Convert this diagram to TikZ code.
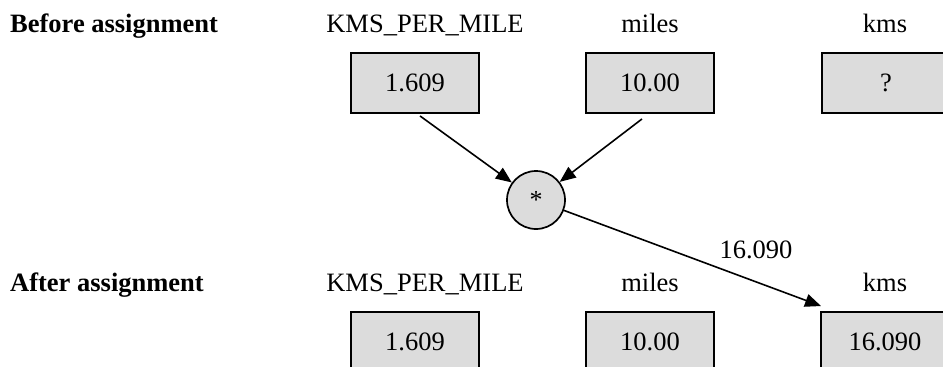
\documentclass[tikz,border=0pt]{standalone}
\usepackage{fontspec}
\setmainfont{Liberation Serif}
\usetikzlibrary{arrows.meta}
\definecolor{boxgray}{HTML}{DCDCDC}
\begin{document}
\begin{tikzpicture}[x=1pt,y=-1pt,
  bigfont/.style={font=\fontsize{26.5}{30}\selectfont},
  valbox/.style={bigfont, draw=black, line width=1.9pt, fill=boxgray,
    minimum width=128pt, minimum height=60pt, inner sep=0pt},
  lbl/.style={bigfont, anchor=base, inner sep=0pt},
  head/.style={font=\fontsize{26.5}{30}\selectfont\bfseries, anchor=base west, inner sep=0pt},
  opnode/.style={circle, draw=black, line width=1.7pt, fill=boxgray,
    minimum size=58pt, inner sep=0pt, font=\fontsize{26}{30}\selectfont},
  arr/.style={line width=1.6pt, -{Triangle[length=16pt,width=13pt]}}
]
\useasboundingbox (0,0) rectangle (943,367);
\clip (0,0) rectangle (943,367);

% headings
\node[head] (hbefore) at (10,32) {Before assignment};
\node[head] (hafter)  at (10,291) {After assignment};

% top labels
\node[lbl] (l1) at (425,32) {KMS\_PER\_MILE};
\node[lbl] (l2) at (650,32) {miles};
\node[lbl] (l3) at (885,32) {kms};

% top boxes
\node[valbox] (b1) at (415,83) {1.609};
\node[valbox] (b2) at (650,83) {10.00};
\node[valbox] (b3) at (886,83) {?};

% operator
\node[opnode] (op) at (536,200) {\raisebox{-7pt}{*}};

% bottom labels
\node[lbl] (m1) at (425,291) {KMS\_PER\_MILE};
\node[lbl] (m2) at (650,291) {miles};
\node[lbl] (m3) at (885,291) {kms};

% bottom boxes
\node[valbox] (c1) at (415,342) {1.609};
\node[valbox] (c2) at (650,342) {10.00};
\node[valbox] (c3) at (885,342) {16.090};

% result label
\node[lbl] (res) at (756,258) {16.090};

% arrows
\draw[arr] ([shift={(5pt,-2pt)}]b1.south) -- (op);
\draw[arr] ([shift={(-8pt,-5pt)}]b2.south) -- (op);
\draw[arr] (op) -- ([shift={(1pt,5pt)}]c3.north west);
\end{tikzpicture}
\end{document}
